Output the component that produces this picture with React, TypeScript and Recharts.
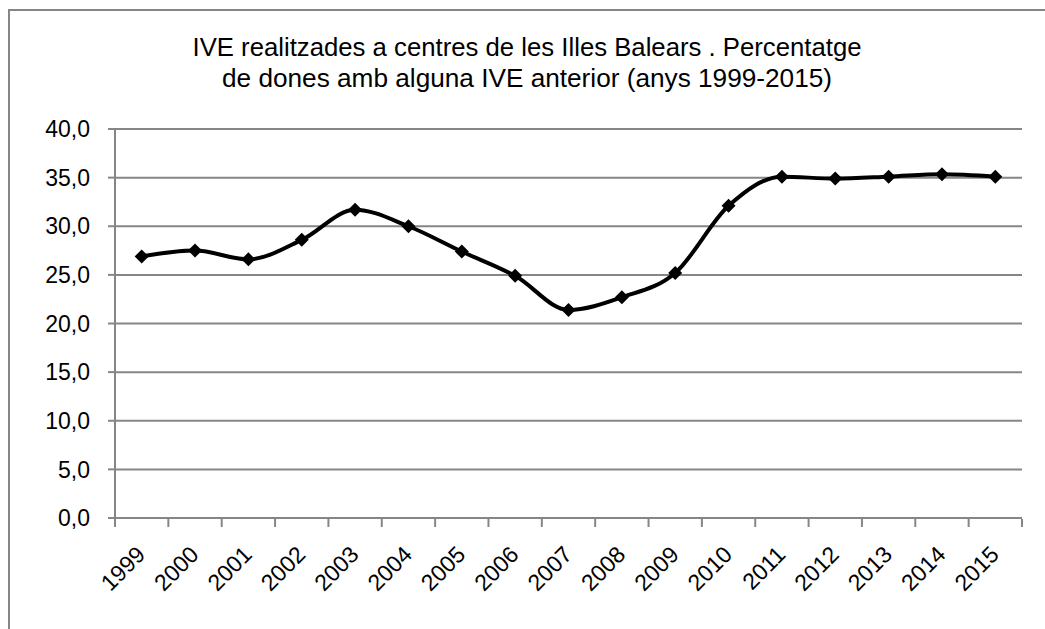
import React from 'react';
import { LineChart, Line, XAxis, YAxis, CartesianGrid } from 'recharts';

const years = ['1999', '2000', '2001', '2002', '2003', '2004', '2005', '2006', '2007', '2008', '2009', '2010', '2011', '2012', '2013', '2014', '2015'];
const percentages = [26.9, 27.5, 26.6, 28.6, 31.7, 30.0, 27.4, 24.9, 21.4, 22.7, 25.2, 32.1, 35.1, 34.9, 35.1, 35.35, 35.1];
const yTicks = [0, 5, 10, 15, 20, 25, 30, 35, 40];

const data = years.map((year, i) => ({ year, value: percentages[i] }));

const GREY = '#868686';
const FONT = '"Liberation Sans", Arial, sans-serif';
const PLOT_W = 1022 - 115;
const HALF_BAND = PLOT_W / years.length / 2;

function Diamond(props: any) {
  const { cx, cy } = props;
  if (cx == null || cy == null) return null;
  const r = 7;
  return (
    <polygon
      points={`${cx},${cy - r} ${cx + r},${cy} ${cx},${cy + r} ${cx - r},${cy}`}
      fill="#000"
      stroke="none"
    />
  );
}

// category labels sit at band centres, tick marks at band edges (Excel style)
function YearTick(props: any) {
  const { x, y, payload, index } = props;
  const last = index === years.length - 1;
  const ax = x + 5;
  const ay = 556;
  return (
    <g>
      <line x1={x - HALF_BAND} x2={x - HALF_BAND} y1={y - 1} y2={y + 7} stroke={GREY} strokeWidth={2} />
      {last && <line x1={x + HALF_BAND} x2={x + HALF_BAND} y1={y - 1} y2={y + 7} stroke={GREY} strokeWidth={2} />}
      <text
        x={ax}
        y={ay}
        transform={`rotate(-45, ${ax}, ${ay})`}
        textAnchor="end"
        fontSize={23}
        fontFamily={FONT}
        fill="#000"
      >
        {payload.value}
      </text>
    </g>
  );
}

export default function App() {
  return (
    <div style={{ position: 'absolute', left: 0, top: 0, width: 1045, height: 629, background: '#fff', overflow: 'hidden' }}>
      <div
        style={{
          position: 'absolute',
          left: 8,
          top: 9,
          width: 1100,
          height: 700,
          borderLeft: `2px solid ${GREY}`,
          borderTop: `2px solid ${GREY}`,
        }}
      />
      <svg width={1045} height={110} style={{ position: 'absolute', left: 0, top: 0 }}>
        <text x={527} y={56} textAnchor="middle" fontSize={25} fontFamily={FONT} fill="#000" textLength={669} lengthAdjust="spacingAndGlyphs">
          IVE realitzades a centres de les Illes Balears . Percentatge
        </text>
        <text x={527} y={87} textAnchor="middle" fontSize={25} fontFamily={FONT} fill="#000" textLength={610} lengthAdjust="spacingAndGlyphs">
          de dones amb alguna IVE anterior (anys 1999-2015)
        </text>
      </svg>
      <div style={{ position: 'absolute', left: 0, top: 0 }}>
        <LineChart width={1045} height={629} data={data} margin={{ top: 129, right: 23, bottom: 11, left: 0 }}>
          <CartesianGrid vertical={false} stroke={GREY} strokeWidth={2} />
          <XAxis
            dataKey="year"
            interval={0}
            height={100}
            padding={{ left: HALF_BAND, right: HALF_BAND }}
            stroke={GREY}
            strokeWidth={2}
            tickLine={false}
            tickSize={0}
            tick={<YearTick />}
          />
          <YAxis
            domain={[0, 40]}
            ticks={yTicks}
            width={115}
            stroke={GREY}
            strokeWidth={2}
            tickSize={7}
            tickMargin={18}
            tickFormatter={(v: number) => v.toFixed(1).replace('.', ',')}
            tick={{ fontSize: 23, fontFamily: FONT, fill: '#000' }}
          />
          <Line
            type="monotone"
            dataKey="value"
            stroke="#000"
            strokeWidth={4}
            dot={<Diamond />}
            activeDot={false}
            isAnimationActive={false}
          />
        </LineChart>
      </div>
    </div>
  );
}
